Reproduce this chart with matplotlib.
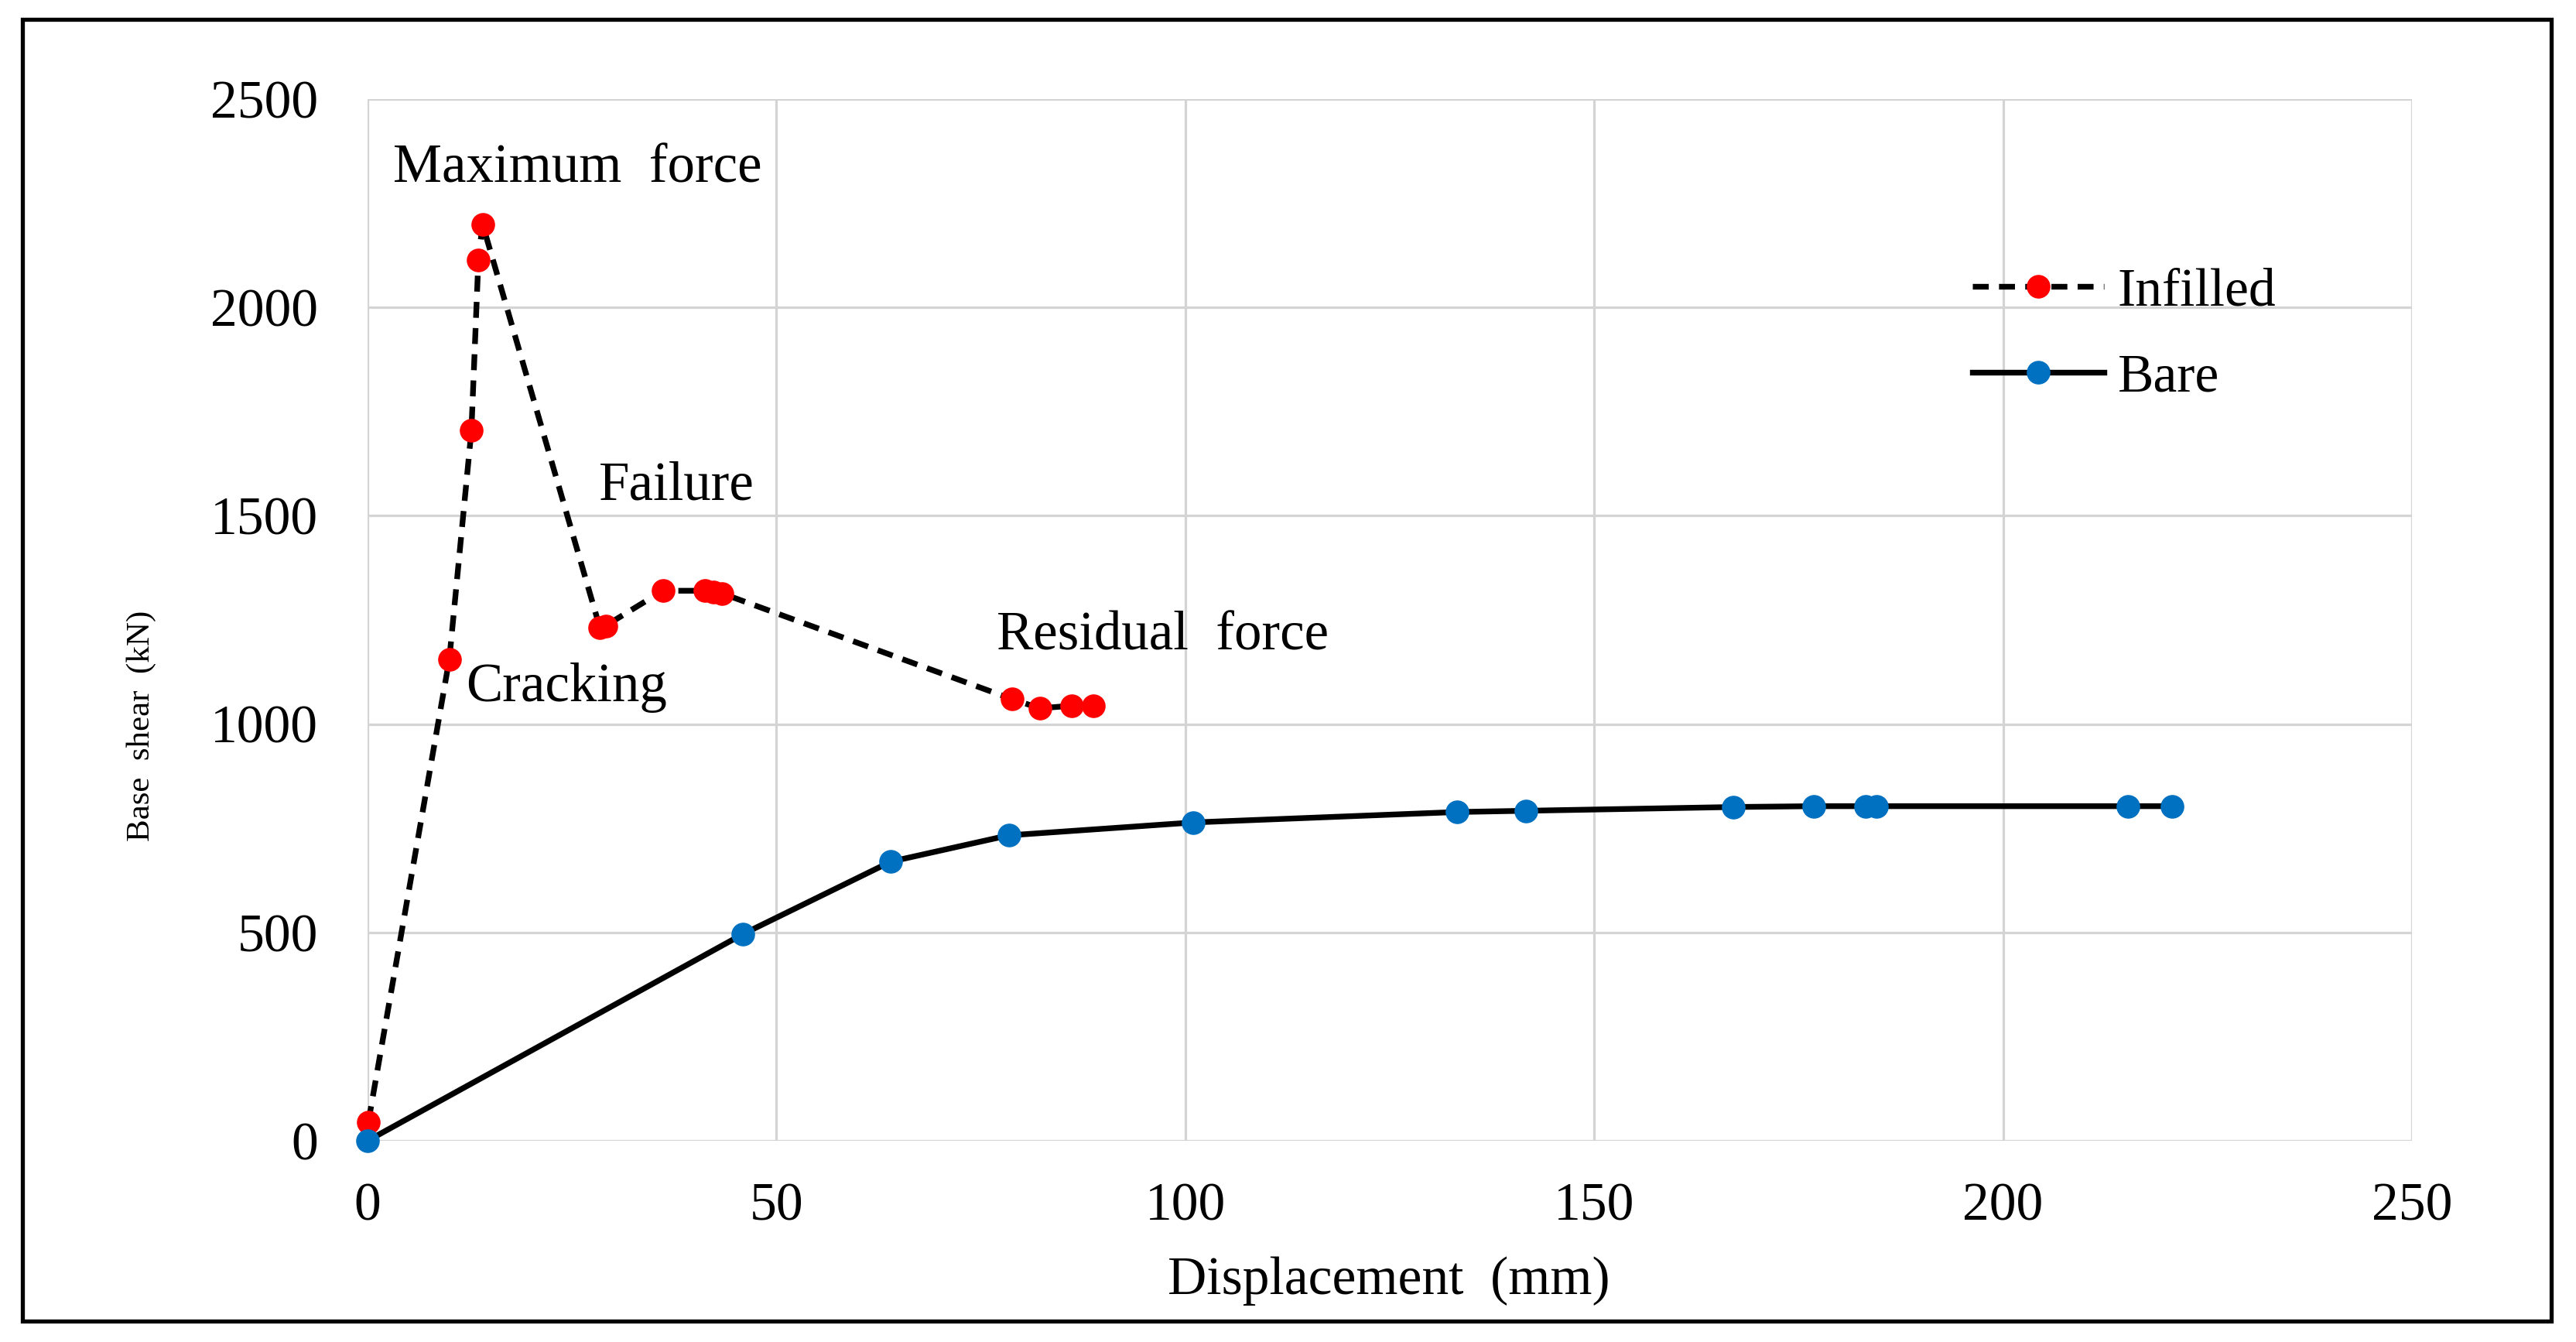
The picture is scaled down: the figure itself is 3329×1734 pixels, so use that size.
import matplotlib
matplotlib.use("Agg")
import matplotlib.pyplot as plt
from matplotlib.patches import Rectangle

# data
infilled_disp = [0.1, 10.0, 12.7, 13.55, 14.06, 28.4, 29.1, 36.1, 41.3, 42.3, 43.3, 78.8, 82.2, 86.1, 88.8]
infilled_shear = [45, 1156, 1705, 2113, 2200, 1232, 1236, 1320, 1320, 1317, 1314, 1060, 1038, 1044, 1044]

bare_disp = [0, 45.9, 64.0, 78.4, 101.0, 133.2, 141.7, 167.0, 176.9, 183.2, 184.5, 215.3, 220.7]
bare_shear = [0, 496, 670, 733, 764, 789, 792, 801, 803, 803, 803, 803, 803]

x_ticks = [0, 50, 100, 150, 200, 250]
y_ticks = [0, 500, 1000, 1500, 2000, 2500]

notes = [("Maximum  force", 3.1, 2301),
         ("Failure", 28.3, 1538),
         ("Cracking", 12.0, 1055),
         ("Residual  force", 76.9, 1178)]

plt.rcParams["font.family"] = ["Liberation Serif", "DejaVu Serif"]

W, H = 3330, 1734
fig = plt.figure(figsize=(W / 100, H / 100), dpi=100)
ax = fig.add_axes([475 / W, 1 - 1474 / H, (3117 - 475) / W, (1474 - 128) / H])

ax.plot(infilled_disp, infilled_shear, color="black", lw=5.3, dashes=(2.8, 1.8),
        marker="o", ms=21, mfc="#ff0000", mec="#ff0000", label="Infilled", zorder=3, clip_on=False)
ax.plot(bare_disp, bare_shear, color="black", lw=5.3,
        marker="o", ms=21, mfc="#0070c0", mec="#0070c0", label="Bare", zorder=3, clip_on=False)

ax.set_xlim(0, 250)
ax.set_ylim(0, 2500)
ax.set_xticks(x_ticks)
ax.set_yticks(y_ticks)
ax.grid(True, color="#d4d4d4", lw=2.3)
ax.set_axisbelow(True)
for s in ax.spines.values():
    s.set_visible(False)
ax.tick_params(length=0, labelsize=50, colors="black")
ax.tick_params(axis="y", pad=46)
ax.tick_params(axis="x", pad=39)

for txt, x, y in notes:
    ax.text(x, y, txt, fontsize=51, ha="left", va="baseline")

fig.text(1795 / W, 1 - 1672 / H, "Displacement  (mm)", fontsize=50, ha="center", va="baseline")
fig.text(183 / W, 1 - 938 / H, "Base  shear  (kN)", fontsize=31, rotation=90, ha="center", va="center")

ax.legend(loc="upper left", bbox_to_anchor=(2549 / W, 1 - 346 / H), bbox_transform=fig.transFigure,
          frameon=False, fontsize=50, handlelength=2.45, handletextpad=0.25, labelspacing=0.68,
          borderpad=0, borderaxespad=0, numpoints=1)

# outer black frame
fig.patches.append(Rectangle((29 / W, 1 - 1707 / H), (3297 - 29) / W, (1707 - 25) / H,
                             transform=fig.transFigure, fill=False, ec="black", lw=3.8))

fig.savefig("out.png", dpi=100)
